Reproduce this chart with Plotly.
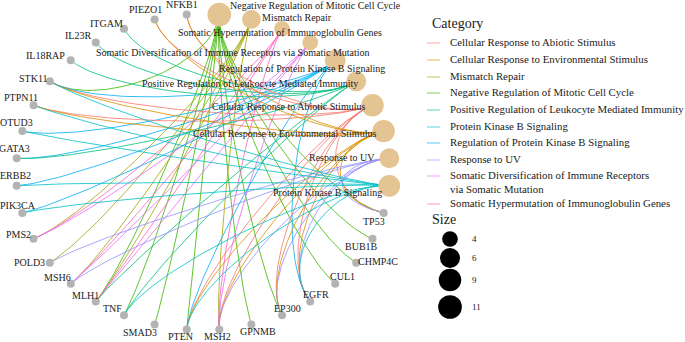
import numpy as np
import plotly.graph_objects as go

# ---------------- data ----------------
categories = [
    "Negative Regulation of Mitotic Cell Cycle",
    "Mismatch Repair",
    "Somatic Hypermutation of Immunoglobulin Genes",
    "Somatic Diversification of Immune Receptors via Somatic Mutation",
    "Regulation of Protein Kinase B Signaling",
    "Positive Regulation of Leukocyte Mediated Immunity",
    "Cellular Response to Abiotic Stimulus",
    "Cellular Response to Environmental Stimulus",
    "Response to UV",
    "Protein Kinase B Signaling",
]
genes = ["TP53", "BUB1B", "CHMP4C", "CUL1", "EGFR", "EP300", "GPNMB", "MSH2", "PTEN",
         "SMAD3", "TNF", "MLH1", "MSH6", "POLD3", "PMS2", "PIK3CA", "ERBB2", "GATA3",
         "OTUD3", "PTPN11", "STK11", "IL18RAP", "IL23R", "ITGAM", "PIEZO1", "NFKB1"]

neg_mitotic = ["TP53", "BUB1B", "CHMP4C", "CUL1", "GPNMB", "SMAD3", "PTEN", "TNF", "EP300", "STK11", "MLH1"]
mismatch = ["MSH2", "MSH6", "MLH1", "PMS2", "POLD3"]
hypermut = ["MSH2", "MSH6", "MLH1", "PMS2"]
somatic_div = ["MSH2", "MSH6", "MLH1", "PMS2"]
reg_pkb = ["ERBB2", "PIK3CA", "OTUD3", "PTEN", "EGFR", "STK11", "GATA3"]
leukocyte = ["ITGAM", "IL23R", "IL18RAP", "GATA3", "TNF", "MLH1"]
abiotic = ["TP53", "EGFR", "EP300", "PTEN", "NFKB1", "PIEZO1", "STK11", "PTPN11", "MSH2"]
environmental = ["TP53", "EGFR", "EP300", "PTEN", "NFKB1", "PIEZO1", "STK11", "PTPN11", "MSH2"]
uv = ["TP53", "EP300", "EGFR", "MSH2", "MSH6", "POLD3"]
pkb = ["ERBB2", "PIK3CA", "OTUD3", "PTEN", "EGFR", "TNF", "PTPN11", "STK11"]

gene_sets = [neg_mitotic, mismatch, hypermut, somatic_div, reg_pkb, leukocyte,
             abiotic, environmental, uv, pkb]

legend_labels = [
    ["Cellular Response to Abiotic Stimulus"],
    ["Cellular Response to Environmental Stimulus"],
    ["Mismatch Repair"],
    ["Negative Regulation of Mitotic Cell Cycle"],
    ["Positive Regulation of Leukocyte Mediated Immunity"],
    ["Protein Kinase B Signaling"],
    ["Regulation of Protein Kinase B Signaling"],
    ["Response to UV"],
    ["Somatic Diversification of Immune Receptors", "via Somatic Mutation"],
    ["Somatic Hypermutation of Immunoglobulin Genes"],
]
size_breaks = [4, 6, 9, 11]

# ---------------- style ----------------
palette = ["#F8766D", "#D89000", "#A3A500", "#39B600", "#00BF7D",
           "#00BFC4", "#00B0F6", "#9590FF", "#E76BF3", "#FF62BC"]
cat_color_idx = [3, 2, 9, 8, 6, 4, 0, 1, 7, 5]
FONT = "Liberation Serif"
TXT = "#1a1a1a"
STRENGTH = 0.32

def node_diam(n):
    return 15.7 + 8.0 * np.sqrt((n - 4) / 7.0)

def hex_rgba(h, a):
    h = h.lstrip("#")
    return "rgba(%d,%d,%d,%.2f)" % (int(h[0:2], 16), int(h[2:4], 16), int(h[4:6], 16), a)

# circular layout
nodes = categories + genes
N = len(nodes)
theta = np.deg2rad(85 - 360.0 / N * np.arange(N))
pos = {name: (np.cos(t), np.sin(t)) for name, t in zip(nodes, theta)}

fig = go.Figure()

tt = np.linspace(0, 1, 60)
for ci, cat in enumerate(categories):
    col = hex_rgba(palette[cat_color_idx[ci]], 0.8)
    xs, ys = [], []
    for g in gene_sets[ci]:
        p0 = np.array(pos[cat]); p3 = np.array(pos[g])
        p1 = p0 * (1 - STRENGTH); p2 = p3 * (1 - STRENGTH)
        b = ((1 - tt)[:, None] ** 3 * p0 + 3 * ((1 - tt) ** 2 * tt)[:, None] * p1
             + 3 * ((1 - tt) * tt ** 2)[:, None] * p2 + (tt ** 3)[:, None] * p3)
        xs += list(b[:, 0]) + [None]
        ys += list(b[:, 1]) + [None]
    fig.add_trace(go.Scatter(x=xs, y=ys, mode="lines", line=dict(color=col, width=1),
                             hoverinfo="skip", showlegend=False))

fig.add_trace(go.Scatter(x=[pos[g][0] for g in genes], y=[pos[g][1] for g in genes],
                         mode="markers", marker=dict(size=8, color="#B3B3B3", line=dict(width=0)),
                         showlegend=False, hoverinfo="text", text=genes))
fig.add_trace(go.Scatter(x=[pos[c][0] for c in categories], y=[pos[c][1] for c in categories],
                         mode="markers",
                         marker=dict(size=[node_diam(len(s)) for s in gene_sets], color="#E5C494",
                                     line=dict(width=0), opacity=1),
                         showlegend=False, hoverinfo="text", text=categories))

gene_off = {"TP53": (-10, 9), "BUB1B": (-11, 8), "CHMP4C": (22, -1), "CUL1": (7, -7),
            "EGFR": (6, -7), "EP300": (5, -7), "GPNMB": (7, 7), "MSH2": (-2, 7),
            "PTEN": (-6, 7), "SMAD3": (-15, 8), "TNF": (-11, -7), "MLH1": (-10, -6),
            "MSH6": (-13, -6), "POLD3": (-20, 0), "PMS2": (-15, -4), "PIK3CA": (-4, -7),
            "ERBB2": (-1, -10), "GATA3": (-2, -10), "OTUD3": (-6, -9), "PTPN11": (-13, -8),
            "STK11": (-16, -3), "IL18RAP": (-25, -5), "IL23R": (-18, -7), "ITGAM": (-17, -5),
            "PIEZO1": (-9, -10), "NFKB1": (-5, -10)}
cat_off = [(96, -9), (46, -2), (-2, 4), (-77, 10), (-33, 8), (-106, 2), (-84, 1),
           (-99, 2), (-47, -1), (-62, 7)]

ann = []
for g in genes:
    dx, dy = gene_off[g]
    ann.append(dict(x=pos[g][0], y=pos[g][1], xref="x", yref="y", text=g, showarrow=False,
                    xshift=dx, yshift=-dy, font=dict(family=FONT, size=10, color=TXT),
                    xanchor="center", yanchor="middle"))
for c, (dx, dy) in zip(categories, cat_off):
    ann.append(dict(x=pos[c][0], y=pos[c][1], xref="x", yref="y", text=c, showarrow=False,
                    xshift=dx, yshift=-dy, font=dict(family=FONT, size=10, color=TXT),
                    xanchor="center", yanchor="middle"))

W, H = 685, 342
def px(x):
    return x / W
def py(y):
    return 1 - y / H

ann.append(dict(x=px(430), y=py(23), xref="paper", yref="paper", text="Category", showarrow=False,
                xanchor="left", yanchor="middle", font=dict(family=FONT, size=14, color=TXT)))
row_y = [42, 59, 76, 92, 109, 126, 142, 159, 175, 203]
shapes = []
for i, (lines, yy) in enumerate(zip(legend_labels, row_y)):
    col = hex_rgba(palette[i], 0.55)
    shapes.append(dict(type="line", xref="paper", yref="paper", x0=px(427), x1=px(440),
                       y0=py(yy + 1), y1=py(yy + 1), line=dict(color=col, width=1.2)))
    for j, lab in enumerate(lines):
        ann.append(dict(x=px(448), y=py(yy + 13.5 * j), xref="paper", yref="paper", text=lab,
                        showarrow=False, xanchor="left", yanchor="middle",
                        font=dict(family=FONT, size=10.8, color=TXT)))

ann.append(dict(x=px(430), y=py(219), xref="paper", yref="paper", text="Size", showarrow=False,
                xanchor="left", yanchor="middle", font=dict(family=FONT, size=14, color=TXT)))
size_y = [239, 258, 280, 307]
for s, yy in zip(size_breaks, size_y):
    d = node_diam(s)
    shapes.append(dict(type="circle", xref="paper", yref="paper", xsizemode="pixel",
                       ysizemode="pixel", xanchor=px(450), yanchor=py(yy),
                       x0=-d / 2, x1=d / 2, y0=-d / 2, y1=d / 2,
                       fillcolor="black", line=dict(width=0)))
    ann.append(dict(x=px(470), y=py(yy), xref="paper", yref="paper", text=str(s), showarrow=False,
                    xanchor="left", yanchor="middle", font=dict(family=FONT, size=9, color=TXT)))

xw = 410
fig.update_layout(
    width=W, height=H, margin=dict(l=0, r=0, t=0, b=0, pad=0, autoexpand=False),
    paper_bgcolor="white", plot_bgcolor="white",
    font=dict(family=FONT),
    xaxis=dict(domain=[0, xw / W], range=[-203 / 187, (xw - 203) / 187], visible=False,
               fixedrange=True),
    yaxis=dict(domain=[0, 1], range=[-(H - 172) / 158, 172 / 158], visible=False,
               fixedrange=True),
    annotations=ann, shapes=shapes, showlegend=False,
)
fig.write_html("out.html", config={"displayModeBar": False},
               post_script="document.body.style.margin='0px';document.body.style.padding='0px';")
